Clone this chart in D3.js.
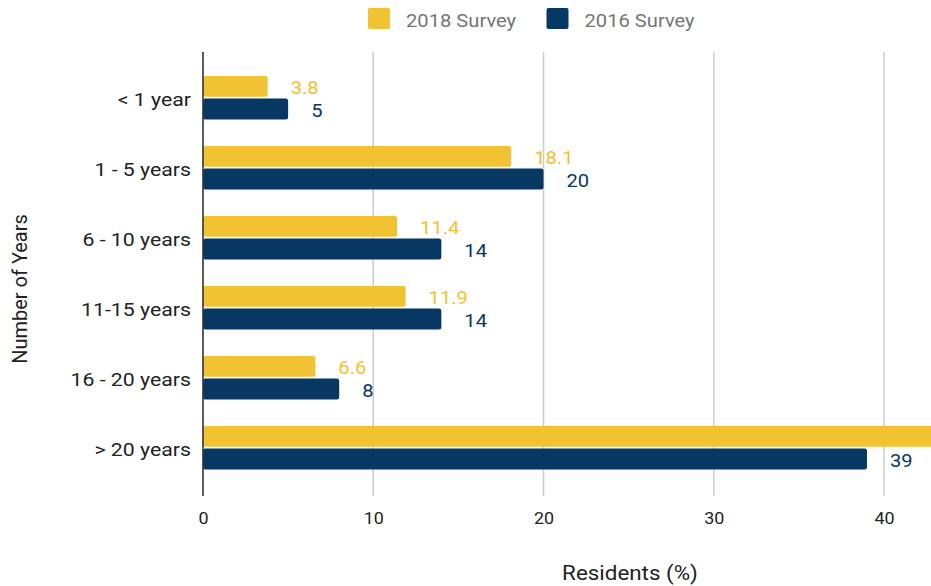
<!DOCTYPE html>
<html>
<head>
<meta charset="utf-8">
<script src="https://cdn.jsdelivr.net/npm/d3@7"></script>
<style>
  html, body { margin: 0; padding: 0; background: #fff; overflow: hidden; }
  svg { display: block; font-family: Roboto, "Noto Sans", sans-serif; }
</style>
</head>
<body>
<svg id="chart" width="931" height="586"></svg>
<script>
// Length of residence, share of residents per survey
const categories = ["< 1 year", "1 - 5 years", "6 - 10 years", "11-15 years", "16 - 20 years", "> 20 years"];
const seriesNames = ["2018 Survey", "2016 Survey"];
const values2018 = [3.8, 18.1, 11.4, 11.9, 6.6, 48.2];
const values2016 = [5, 20, 14, 14, 8, 39];
const xTicks = [0, 10, 20, 30, 40];
const seriesColors = ["#f1c232", "#073763"];

// horizontal text stretch used for all horizontal labels
const SX = 1.12;
const place = (x, y) => `translate(${x},${y}) scale(${SX},1)`;

const svg = d3.select("#chart");

const x = d3.scaleLinear().domain([0, 40]).range([203, 884]);
const y0 = d3.scaleBand().domain(categories).range([62.7, 482.7])
  .paddingInner(0.38).paddingOuter(0.19);
const y1 = d3.scaleBand().domain(seriesNames).range([0, y0.bandwidth()]).paddingInner(0.08);
const color = d3.scaleOrdinal().domain(seriesNames).range(seriesColors);

const plotTop = 52, plotBottom = 496;

// vertical gridlines
svg.append("g").selectAll("line")
  .data(xTicks.filter(t => t !== 0))
  .join("line")
  .attr("x1", d => x(d)).attr("x2", d => x(d))
  .attr("y1", plotTop).attr("y2", plotBottom)
  .attr("stroke", "#cccccc").attr("stroke-width", 1.5);

const rows = categories.map((c, i) => ({
  category: c,
  items: [
    { series: seriesNames[0], value: values2018[i] },
    { series: seriesNames[1], value: values2016[i] }
  ]
}));

const groups = svg.append("g").selectAll("g")
  .data(rows)
  .join("g")
  .attr("transform", d => `translate(0,${y0(d.category)})`);

groups.selectAll("rect")
  .data(d => d.items)
  .join("rect")
  .attr("x", x(0))
  .attr("y", d => y1(d.series))
  .attr("width", d => x(d.value) - x(0))
  .attr("height", y1.bandwidth())
  .attr("rx", 2.5).attr("ry", 2.5)
  .attr("fill", d => color(d.series));

groups.selectAll("text")
  .data(d => d.items)
  .join("text")
  .attr("transform", d => place(x(d.value) + 23, y1(d.series) + y1.bandwidth() / 2 + 7.5))
  .attr("font-size", 18)
  .attr("fill", d => color(d.series))
  .text(d => d.value);

// y axis: category labels and baseline
const yAxis = d3.axisLeft(y0).tickSize(0).tickPadding(0);
const yg = svg.append("g").attr("transform", `translate(191,0)`).call(yAxis);
yg.select(".domain").remove();
yg.selectAll("text")
  .attr("font-size", 19)
  .attr("font-family", "Roboto, sans-serif")
  .attr("fill", "#222")
  .attr("dy", null).attr("x", null).attr("y", null)
  .attr("transform", `translate(0,8.5) scale(${SX},1)`);

svg.append("line")
  .attr("x1", x(0)).attr("x2", x(0))
  .attr("y1", plotTop).attr("y2", plotBottom)
  .attr("stroke", "#333").attr("stroke-width", 1.6);

// x axis tick labels
const xAxis = d3.axisBottom(x).tickValues(xTicks).tickSize(0).tickPadding(0);
const xg = svg.append("g").attr("transform", `translate(0,524)`).call(xAxis);
xg.select(".domain").remove();
xg.selectAll("text")
  .attr("font-size", 16)
  .attr("font-family", "Roboto, sans-serif")
  .attr("fill", "#222")
  .attr("dy", null).attr("y", null)
  .attr("transform", `scale(${SX},1)`);

// axis titles
svg.append("text")
  .attr("transform", place(630, 580))
  .attr("text-anchor", "middle")
  .attr("font-size", 20)
  .attr("fill", "#222")
  .text("Residents (%)");

svg.append("text")
  .attr("transform", "translate(26.5,289) rotate(-90)")
  .attr("text-anchor", "middle")
  .attr("font-size", 20)
  .attr("fill", "#222")
  .text("Number of Years");

// legend
const legendX = [368, 546.5];
const legend = svg.append("g").selectAll("g")
  .data(seriesNames)
  .join("g")
  .attr("transform", (d, i) => `translate(${legendX[i]},8)`);
legend.append("rect")
  .attr("width", 22).attr("height", 21)
  .attr("rx", 2).attr("ry", 2)
  .attr("fill", d => color(d));
legend.append("text")
  .attr("transform", place(38, 19))
  .attr("font-size", 18)
  .attr("fill", "#757575")
  .text(d => d);
</script>
</body>
</html>
